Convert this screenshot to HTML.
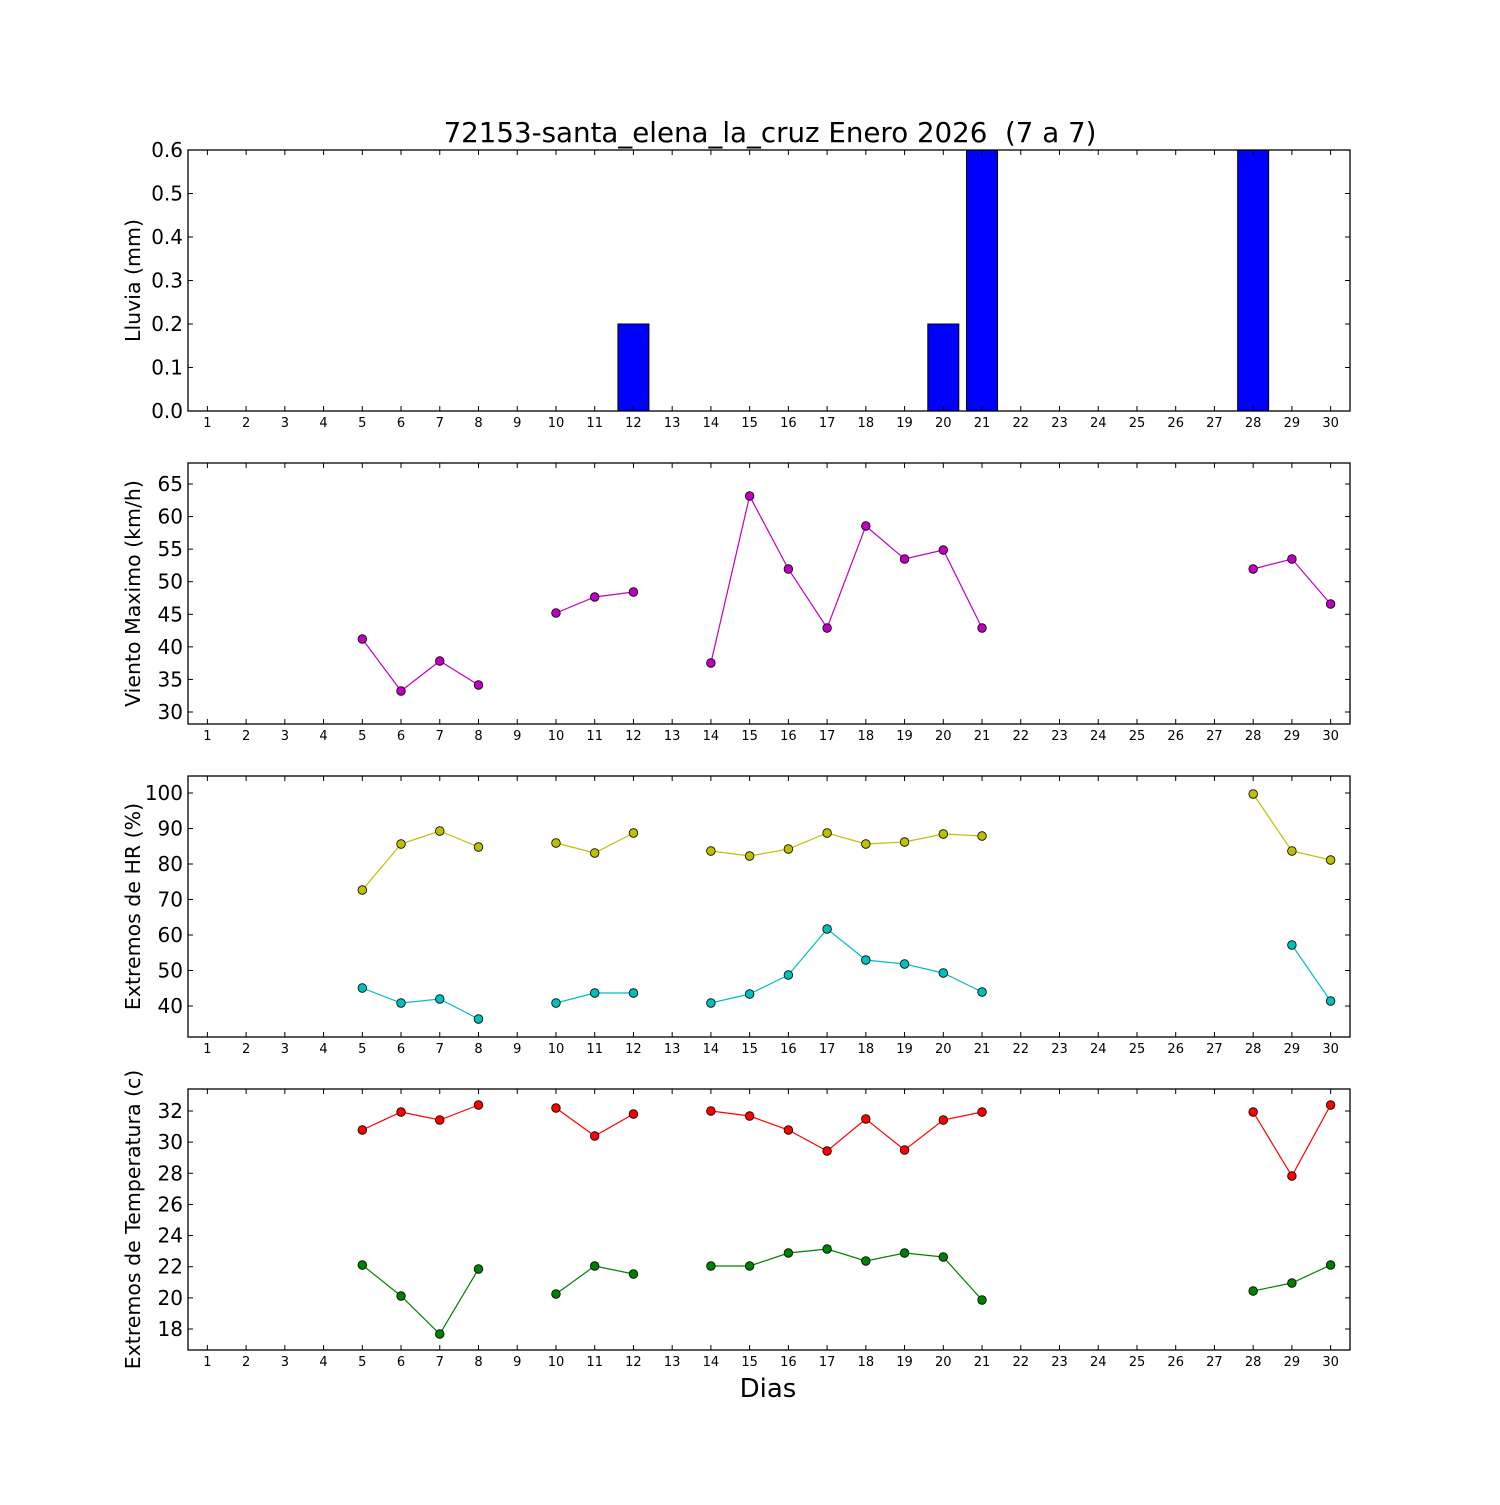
<!DOCTYPE html>
<html><head><meta charset="utf-8"><style>
html,body{margin:0;padding:0;background:#fff;}
svg text{font-family:"DejaVu Sans","Liberation Sans",sans-serif;fill:#000;}
</style></head><body>
<svg id="s" width="1500" height="1500" xmlns="http://www.w3.org/2000/svg"></svg>
<script>
const s=document.getElementById('s');
let h='';
const L=188,R=1350;
const X=d=>L+(d-0.5)*(R-L)/30;
h+=`<text x="770" y="142" font-size="27.7" text-anchor="middle" style="white-space:pre" xml:space="preserve">72153-santa_elena_la_cruz Enero 2026  (7 a 7)</text>`;
const panels=[
 {top:150,bot:411,label:'Lluvia (mm)',ticks:[[0,'0.0'],[0.1,'0.1'],[0.2,'0.2'],[0.3,'0.3'],[0.4,'0.4'],[0.5,'0.5'],[0.6,'0.6']],map:v=>411-v*435},
 {top:463,bot:724,label:'Viento Maximo (km/h)',ticks:[30,35,40,45,50,55,60,65].map(v=>[v,''+v]),map:v=>712-(v-30)*228/35},
 {top:776,bot:1037,label:'Extremos de HR (%)',ticks:[40,50,60,70,80,90,100].map(v=>[v,''+v]),map:v=>1006-(v-40)*213/60},
 {top:1089,bot:1350,label:'Extremos de Temperatura (c)',ticks:[18,20,22,24,26,28,30,32].map(v=>[v,''+v]),map:v=>1329-(v-18)*218/14},
];
[[12,0.2],[20,0.2],[21,0.6],[28,0.6]].forEach(([d,v])=>{
 const w=0.8*(R-L)/30,y=411-v*435;
 h+=`<rect x="${X(d)-w/2}" y="${y}" width="${w}" height="${411-y}" fill="#0000ff" stroke="#000" stroke-width="1"/>`;
});
panels.forEach(p=>{
 h+=`<rect x="${L}" y="${p.top}" width="${R-L}" height="${p.bot-p.top}" fill="none" stroke="#000" stroke-width="1.3"/>`;
 for(let d=1;d<=30;d++){const x=X(d);
  h+=`<line x1="${x}" y1="${p.bot}" x2="${x}" y2="${p.bot-5}" stroke="#000"/><line x1="${x}" y1="${p.top}" x2="${x}" y2="${p.top+5}" stroke="#000"/>`;
  h+=`<text x="${x}" y="${p.bot+16}" font-size="13" text-anchor="middle">${d}</text>`;}
 p.ticks.forEach(([v,t])=>{const y=p.map(v);
  h+=`<line x1="${L}" y1="${y}" x2="${L+5}" y2="${y}" stroke="#000"/><line x1="${R}" y1="${y}" x2="${R-5}" y2="${y}" stroke="#000"/>`;
  h+=`<text x="183" y="${y+7}" font-size="20" text-anchor="end">${t}</text>`;});
 const cy=(p.top+p.bot)/2;
 h+=`<text transform="translate(140,${cy}) rotate(-90)" font-size="20.5" text-anchor="middle">${p.label}</text>`;
});
h+=`<text x="768" y="1397" font-size="26" text-anchor="middle">Dias</text>`;
function series(pts,color){
 const segs=[];let cur=[];
 pts.forEach((p,i)=>{if(i>0&&p[0]-pts[i-1][0]>1){segs.push(cur);cur=[];}cur.push(p);});segs.push(cur);
 segs.forEach(sg=>{if(sg.length>1)h+=`<polyline points="${sg.map(p=>X(p[0])+','+p[1]).join(' ')}" fill="none" stroke="${color}" stroke-width="1.2"/>`;});
 pts.forEach(p=>h+=`<circle cx="${X(p[0])}" cy="${p[1]}" r="4.3" fill="${color}" stroke="#000" stroke-width="0.8"/>`);
}
series([[5,639],[6,691],[7,661],[8,685],[10,613],[11,597],[12,592],[14,663],[15,496],[16,569],[17,628],[18,526],[19,559],[20,550],[21,628],[28,569],[29,559],[30,604]],'#bf00bf');
series([[5,890],[6,844],[7,831],[8,847],[10,843],[11,853],[12,833],[14,851],[15,856],[16,849],[17,833],[18,844],[19,842],[20,834],[21,836],[28,794],[29,851],[30,860]],'#bfbf00');
series([[5,988],[6,1003],[7,999],[8,1019],[10,1003],[11,993],[12,993],[14,1003],[15,994],[16,975],[17,929],[18,960],[19,964],[20,973],[21,992],[29,945],[30,1001]],'#00bfbf');
series([[5,1130],[6,1112],[7,1120],[8,1105],[10,1108],[11,1136],[12,1114],[14,1111],[15,1116],[16,1130],[17,1151],[18,1119],[19,1150],[20,1120],[21,1112],[28,1112],[29,1176],[30,1105]],'#ff0000');
series([[5,1265],[6,1296],[7,1334],[8,1269],[10,1294],[11,1266],[12,1274],[14,1266],[15,1266],[16,1253],[17,1249],[18,1261],[19,1253],[20,1257],[21,1300],[28,1291],[29,1283],[30,1265]],'#008000');
s.innerHTML=h;
</script>
</body></html>
